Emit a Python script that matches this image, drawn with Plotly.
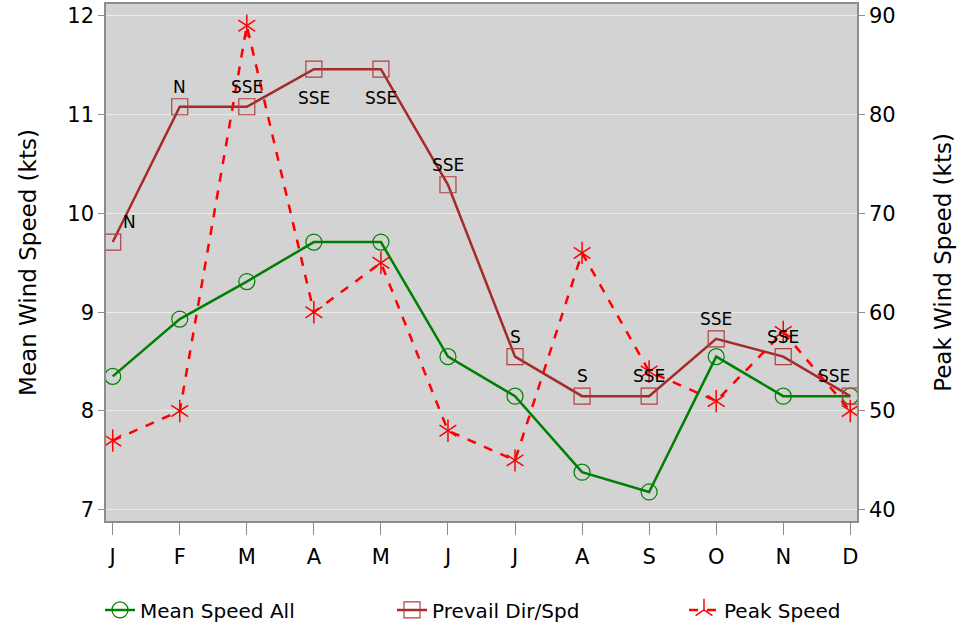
import plotly.graph_objects as go

months = ["J", "F", "M", "A", "M", "J", "J", "A", "S", "O", "N", "D"]
x_idx = list(range(12))

mean_speed = [8.35, 8.93, 9.31, 9.71, 9.71, 8.55, 8.15, 7.38, 7.18, 8.55, 8.15, 8.15]
prevail_speed = [9.71, 11.08, 11.08, 11.46, 11.46, 10.29, 8.55, 8.15, 8.15, 8.73, 8.55, 8.15]
prevail_dir = ["N", "N", "SSE", "SSE", "SSE", "SSE", "S", "S", "SSE", "SSE", "SSE", "SSE"]
peak_speed = [47, 50, 89, 60, 65, 48, 45, 66, 54, 51, 58, 50]

label_pos = ["above-right", "above", "above", "below", "below", "above", "above",
             "above", "above", "above", "above", "above-left"]
label_shift = {"above": (0, 20), "below": (0, -29), "above-right": (17, 20), "above-left": (-16, 20)}

FONT = "DejaVu Sans"
GREEN = "#008000"
BROWN = "#a52a2a"
RED = "#ff0000"
AXIS = "#8c8c8c"

fig = go.Figure()

fig.add_trace(go.Scatter(
    x=x_idx, y=mean_speed, name="Mean Speed All", mode="lines+markers",
    line=dict(color=GREEN, width=2.5),
    marker=dict(symbol="circle-open", size=16, color=GREEN, line=dict(width=1.2)),
    cliponaxis=False, legendwidth=247,
))

fig.add_trace(go.Scatter(
    x=x_idx, y=prevail_speed, name="Prevail Dir/Spd", mode="lines+markers",
    line=dict(color=BROWN, width=2.5),
    marker=dict(symbol="square-open", size=16, color="#b04040", line=dict(width=1.2)),
    cliponaxis=False, legendwidth=247,
))

fig.add_trace(go.Scatter(
    x=x_idx, y=peak_speed, name="Peak Speed", mode="lines+markers", yaxis="y2",
    line=dict(color=RED, width=2.5, dash="dash"),
    marker=dict(symbol="y-up-open", size=14, color=RED, line=dict(width=1.5, color=RED)),
    cliponaxis=False, legendwidth=120, legendgroup="peak",
))
fig.add_trace(go.Scatter(
    x=x_idx, y=peak_speed, name="Peak Speed", mode="markers", yaxis="y2",
    marker=dict(symbol="y-down-open", size=14, color=RED, line=dict(width=1.5, color=RED)),
    cliponaxis=False, showlegend=False, legendgroup="peak", hoverinfo="skip",
))

for i, (d, pos) in enumerate(zip(prevail_dir, label_pos)):
    dx, dy = label_shift[pos]
    fig.add_annotation(
        x=x_idx[i], y=prevail_speed[i], text=d, showarrow=False,
        xshift=dx, yshift=dy, font=dict(family=FONT, size=17, color="black"),
    )

fig.update_layout(
    width=972, height=626,
    margin=dict(l=106, r=115, t=4, b=105, autoexpand=False),
    paper_bgcolor="white",
    plot_bgcolor="#d3d3d3",
    font=dict(family=FONT, size=20, color="black"),
    showlegend=True,
    legend=dict(
        orientation="h",
        x=-0.008, y=-0.172, xanchor="left", yanchor="middle",
        entrywidthmode="pixels",
        font=dict(family=FONT, size=20),
        bgcolor="rgba(0,0,0,0)",
    ),
    xaxis=dict(
        range=[-0.1, 11.1], tickmode="array", tickvals=x_idx, ticktext=months,
        showgrid=False, zeroline=False, automargin=False,
        showline=True, linecolor=AXIS, linewidth=1.5, mirror=True,
        ticks="outside", ticklen=12, tickcolor=AXIS, tickwidth=1.2,
        ticklabelstandoff=4,
        tickfont=dict(size=21),
    ),
    yaxis=dict(
        range=[6.886, 12.12], tickvals=[7, 8, 9, 10, 11, 12],
        showgrid=True, gridcolor="#ebebeb", gridwidth=1, zeroline=False, automargin=False,
        showline=True, linecolor=AXIS, linewidth=1.5,
        ticks="outside", ticklen=6, tickcolor=AXIS, tickwidth=1.2,
        tickfont=dict(size=21),
        title=dict(text="Mean Wind Speed (kts)", font=dict(size=23), standoff=24),
    ),
    yaxis2=dict(
        range=[38.86, 91.2], tickvals=[40, 50, 60, 70, 80, 90],
        overlaying="y", side="right", automargin=False,
        showgrid=False, zeroline=False,
        showline=True, linecolor=AXIS, linewidth=1.5,
        ticks="outside", ticklen=6, tickcolor=AXIS, tickwidth=1.2,
        tickfont=dict(size=21),
        title=dict(text="Peak Wind Speed (kts)", font=dict(size=23), standoff=40),
    ),
)

fig.write_html("out.html", config={"displayModeBar": False},
               post_script="document.body.style.margin='0px';")
